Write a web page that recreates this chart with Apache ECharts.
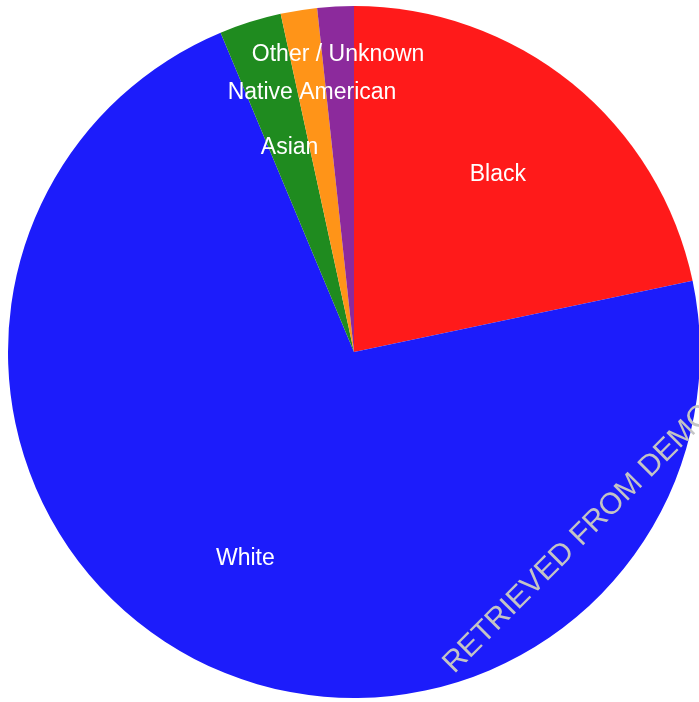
<!DOCTYPE html>
<html>
<head>
<meta charset="utf-8">
<script src="https://cdn.jsdelivr.net/npm/echarts@6/dist/echarts.min.js"></script>
<style>
html,body{margin:0;padding:0;background:#fff;}
#c{width:699px;height:702px;}
</style>
</head>
<body>
<div id="c"></div>
<script>
const categories = ['Black', 'White', 'Asian', 'Native American', 'Other / Unknown'];
const shares = [21.7, 72.0, 2.9, 1.7, 1.7];
const watermarkText = 'RETRIEVED FROM DEMO';

const sliceColors = ['#ff1a1a', '#1c1cfb', '#1f8b1f', '#ff9418', '#8c2a9c'];
const labelRadiusFrac = [0.66, 0.675, 0.62, 0.76, 0.86];
const CX = 354, CY = 352, R = 346;

const total = shares.reduce((a, b) => a + b, 0);
const midAngles = [];
let acc = 0;
shares.forEach(v => { midAngles.push((acc + v / 2) / total * 2 * Math.PI); acc += v; });

const chart = echarts.init(document.getElementById('c'), null, {renderer: 'canvas'});
chart.setOption({
  animation: false,
  backgroundColor: '#ffffff',
  series: [{
    type: 'pie',
    center: [CX, CY],
    radius: [0, R],
    startAngle: 90,
    clockwise: true,
    avoidLabelOverlap: false,
    itemStyle: {borderWidth: 0},
    label: {
      show: true,
      position: 'inside',
      color: '#ffffff',
      fontFamily: 'Liberation Sans, Arial, sans-serif',
      fontSize: 23,
      formatter: '{b}'
    },
    labelLine: {show: false},
    labelLayout: function (p) {
      const i = p.dataIndex;
      const a = midAngles[i];
      const r = R * labelRadiusFrac[i];
      return {
        x: CX + r * Math.sin(a),
        y: CY - r * Math.cos(a),
        align: 'center',
        verticalAlign: 'middle'
      };
    },
    data: categories.map((n, i) => ({name: n, value: shares[i], itemStyle: {color: sliceColors[i]}}))
  }],
  graphic: [{
    type: 'text',
    x: 459,
    y: 679,
    rotation: Math.PI / 4,
    style: {
      text: watermarkText,
      fill: '#c4c4c4',
      font: '30px "Liberation Sans", Arial, sans-serif',
      textAlign: 'left',
      textVerticalAlign: 'bottom'
    },
    z: 100
  }]
});
</script>
</body>
</html>
